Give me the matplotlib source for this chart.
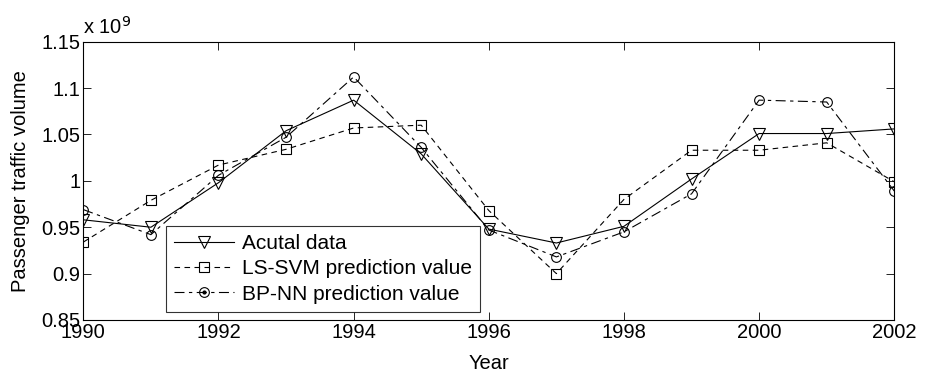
import matplotlib.pyplot as plt
from matplotlib.lines import Line2D
from matplotlib.ticker import FuncFormatter

plt.rcParams['font.family'] = ['Liberation Sans', 'DejaVu Sans']

years = [1990, 1991, 1992, 1993, 1994, 1995, 1996, 1997, 1998, 1999, 2000, 2001, 2002]
# passenger traffic volume, in units of 1e9
actual = [0.958, 0.950, 0.998, 1.054, 1.087, 1.029, 0.948, 0.933, 0.951, 1.002, 1.051, 1.051, 1.056]
ls_svm = [0.934, 0.979, 1.017, 1.034, 1.057, 1.060, 0.968, 0.900, 0.980, 1.033, 1.033, 1.041, 0.999]
bp_nn = [0.969, 0.942, 1.006, 1.047, 1.112, 1.036, 0.947, 0.918, 0.945, 0.986, 1.087, 1.085, 0.989]

xticks = [1990, 1992, 1994, 1996, 1998, 2000, 2002]
yticks = [0.85, 0.9, 0.95, 1.0, 1.05, 1.1, 1.15]


def main():
    fs = 14.5
    fig = plt.figure(figsize=(9.27, 3.74), dpi=100)
    ax = fig.add_axes([0.0899, 0.1444, 0.8748, 0.7441])

    lw = 0.8
    l1, = ax.plot(years, actual, color='black', linestyle='-', linewidth=lw, marker='v',
                  markersize=8, markerfacecolor='none', markeredgewidth=0.8)
    l2, = ax.plot(years, ls_svm, color='black', linestyle=(0, (5, 4)), linewidth=lw, marker='s',
                  markersize=7, markerfacecolor='none', markeredgewidth=0.8)
    l3, = ax.plot(years, bp_nn, color='black', linestyle=(0, (9, 4, 3, 4)), linewidth=lw, marker='o',
                  markersize=7, markerfacecolor='none', markeredgewidth=0.8)
    dot = Line2D([], [], linestyle='none', marker='.', markersize=4, color='black')

    ax.set_xlim(1990, 2002)
    ax.set_ylim(0.85, 1.15)
    ax.set_xticks(xticks)
    ax.set_yticks(yticks)
    ax.yaxis.set_major_formatter(FuncFormatter(lambda v, p: '%g' % round(v, 2)))
    ax.tick_params(direction='in', top=True, right=True, labelsize=fs, length=6, width=0.6, pad=2)
    for s in ax.spines.values():
        s.set_linewidth(0.8)

    ax.set_xlabel('Year', fontsize=fs, labelpad=9)
    ax.set_ylabel('Passenger traffic volume', fontsize=fs, labelpad=8)
    ax.text(0.0, 1.015, r'x 10$^{9}$', transform=ax.transAxes, fontsize=fs, ha='left', va='bottom')

    leg = ax.legend([l1, l2, (l3, dot)],
                    ['Acutal data', 'LS-SVM prediction value', 'BP-NN prediction value'],
                    loc='lower left', bbox_to_anchor=(0.1016, 0.029), fontsize=fs + 0.5, frameon=True,
                    fancybox=False, edgecolor='black', handlelength=2.9, borderpad=0.4,
                    labelspacing=0.3, handletextpad=0.35, borderaxespad=0)
    leg.get_frame().set_linewidth(0.8)

    plt.savefig('out.png', dpi=100)


if __name__ == '__main__':
    main()
